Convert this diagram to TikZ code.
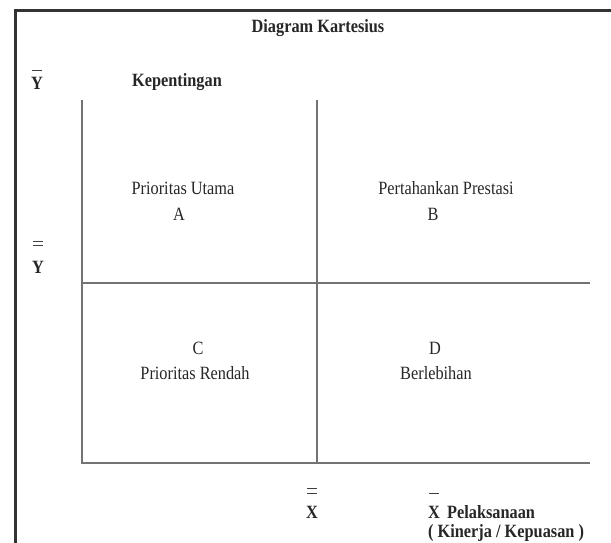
\documentclass[tikz,border=0pt]{standalone}
\usepackage{fontspec}
\setmainfont{Liberation Serif}
\begin{document}
\begin{tikzpicture}[x=1pt,y=-1pt,
  frame/.style={draw=black!80,line width=2.5pt},
  axis/.style={draw=black!55,line width=1.5pt},
  lbl/.style={inner sep=0pt,yscale=1.15,transform shape,font=\fontsize{16.3}{18}\selectfont,text=black!85},
  blbl/.style={lbl,font=\fontsize{16.3}{18}\selectfont\bfseries},
  bar/.style={draw=black!75,line width=1.2pt}]
\useasboundingbox (0,0) rectangle (611,542);
% outer frame (open to right and bottom)
\draw[frame] (15.5,545) -- (15.5,10.5) -- (615,10.5);
% axes and quadrant lines
\coordinate (o) at (82,463);
\coordinate (ytop) at (82,100);
\coordinate (xend) at (590,463);
\coordinate (mtop) at (317,100);
\coordinate (mbot) at (317,463);
\coordinate (ml) at (82,283);
\coordinate (mr) at (590,283);
\draw[axis] (ytop) -- (o) -- (xend);
\draw[axis] (mtop) -- (mbot);
\draw[axis] (ml) -- (mr);
% titles
\node[blbl] (title) at (318,28) {Diagram Kartesius};
\node[blbl] (kep) at (177,82) {Kepentingan};
\node[blbl] (ybar) at (37,83) {Y};
\draw[bar] ([xshift=-5pt,yshift=6pt]ybar.north) -- ([xshift=5pt,yshift=6pt]ybar.north);
\node[blbl] (ydbar) at (38,267) {Y};
\draw[bar] ([xshift=-5pt,yshift=19pt]ydbar.north) -- ([xshift=5pt,yshift=19pt]ydbar.north);
\draw[bar] ([xshift=-5pt,yshift=15pt]ydbar.north) -- ([xshift=5pt,yshift=15pt]ydbar.north);
\node[blbl] (xdbar) at (312,512) {X};
\draw[bar] ([xshift=-5pt,yshift=17pt]xdbar.north) -- ([xshift=5pt,yshift=17pt]xdbar.north);
\draw[bar] ([xshift=-5pt,yshift=12pt]xdbar.north) -- ([xshift=5pt,yshift=12pt]xdbar.north);
\node[blbl,anchor=west] (xbar) at (428,512) {X};
\draw[bar] ([xshift=-5pt,yshift=12pt]xbar.north) -- ([xshift=5pt,yshift=12pt]xbar.north);
\node[blbl,anchor=west] (pel) at (447,512) {Pelaksanaan};
\node[blbl,anchor=west] (kin) at (428,533) {( Kinerja / Kepuasan )};
% quadrant labels
\node[lbl] (pu) at (183,188) {Prioritas Utama};
\node[lbl] (qa) at (179,214) {A};
\node[lbl] (pp) at (446,188) {Pertahankan Prestasi};
\node[lbl] (qb) at (433,214) {B};
\node[lbl] (qc) at (198,348) {C};
\node[lbl] (pr) at (195,373) {Prioritas Rendah};
\node[lbl] (qd) at (435,348) {D};
\node[lbl] (bl) at (436,373) {Berlebihan};
\end{tikzpicture}
\end{document}
